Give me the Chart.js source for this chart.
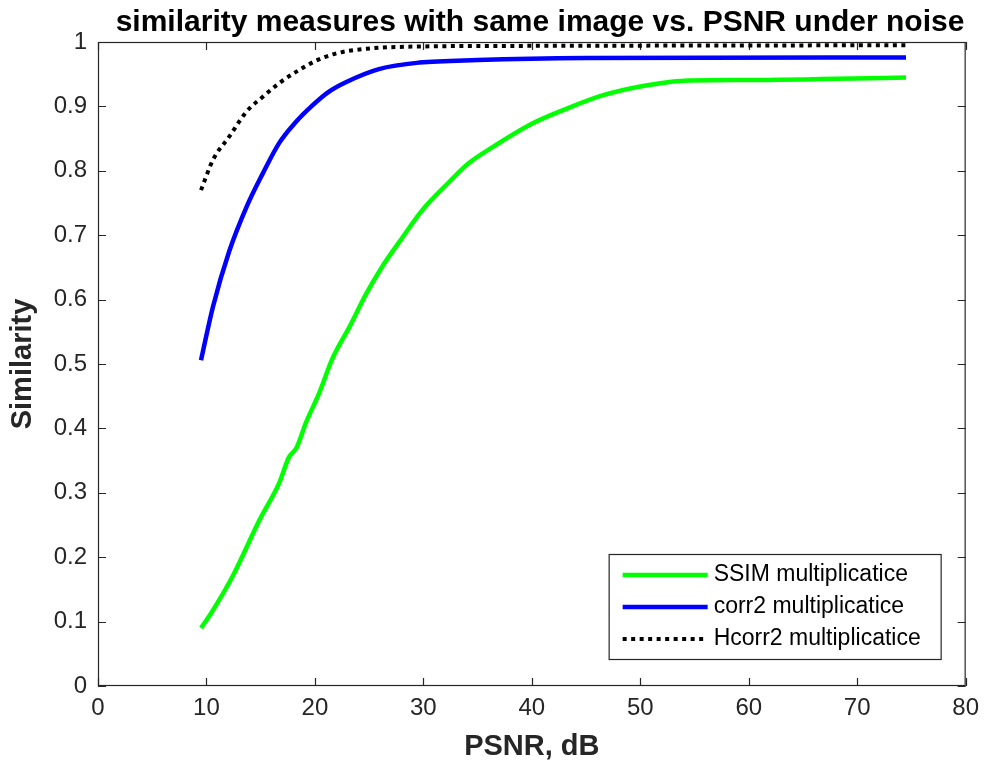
<!DOCTYPE html>
<html><head><meta charset="utf-8">
<script src="https://cdn.jsdelivr.net/npm/chart.js@4.4.0/dist/chart.umd.min.js"></script>
<style>html,body{margin:0;padding:0;background:#fff;}canvas{display:block}</style>
</head><body>
<canvas id="c" width="987" height="765"></canvas>
<script>
// ---- data ----
const ssimX = [9.5, 10.5, 12.4, 14.9, 16.7, 17.6, 18.3, 19.2, 20.4, 21.6, 23.2, 24.7, 26.2, 27.8, 29.9, 32.4, 34.2, 36.5, 40.0, 43.0, 46.5, 50.0, 54.1, 60.0, 74.5];
const ssimY = [0.090, 0.115, 0.170, 0.258, 0.315, 0.355, 0.370, 0.410, 0.455, 0.508, 0.558, 0.608, 0.651, 0.690, 0.739, 0.783, 0.812, 0.838, 0.873, 0.895, 0.917, 0.931, 0.940, 0.941, 0.945];
const corrX = [9.5, 10.6, 12.1, 13.7, 15.2, 16.7, 18.2, 19.8, 21.3, 22.9, 25.9, 29.6, 35.0, 45.0, 74.5];
const corrY = [0.506, 0.589, 0.675, 0.744, 0.796, 0.843, 0.875, 0.902, 0.923, 0.938, 0.958, 0.968, 0.972, 0.975, 0.976];
const hcorrX = [9.5, 10.6, 12.1, 13.7, 15.2, 16.7, 18.3, 20.1, 21.9, 24.4, 29.6, 40.0, 74.5];
const hcorrY = [0.770, 0.817, 0.853, 0.892, 0.915, 0.936, 0.954, 0.971, 0.982, 0.989, 0.993, 0.994, 0.995];
const seriesLabels = ['SSIM multiplicatice', 'corr2 multiplicatice', 'Hcorr2 multiplicatice'];
const xTickLabels = ['0', '10', '20', '30', '40', '50', '60', '70', '80'];
const yTickLabels = ['0', '0.1', '0.2', '0.3', '0.4', '0.5', '0.6', '0.7', '0.8', '0.9', '1'];
const titleText = 'similarity measures with same image vs. PSNR under noise';
const xTitle = 'PSNR, dB';
const yTitle = 'Similarity';

const FONT = '"Liberation Sans", Arial, Helvetica, sans-serif';
const AX = '#262626';

function pts(xs, ys) { return xs.map((x, i) => ({ x: x, y: ys[i] })); }

const boxTicks = {
  id: 'boxTicks',
  afterLayout(chart) {
    const t = chart.titleBlock;
    if (t) { t.left = 540 - 470; t.right = 540 + 470; }
  },
  beforeDatasetsDraw(chart) {
    const { ctx, chartArea: a, scales } = chart;
    ctx.save();
    ctx.strokeStyle = AX;
    ctx.lineWidth = 1.2;
    ctx.strokeRect(a.left + 0.5, a.top + 0.5, a.right - a.left - 1, a.bottom - a.top - 1);
    const L = 8;
    ctx.beginPath();
    scales.x.ticks.forEach(tk => {
      const p = Math.round(scales.x.getPixelForValue(tk.value)) + 0.5;
      ctx.moveTo(p, a.bottom); ctx.lineTo(p, a.bottom - L);
      ctx.moveTo(p, a.top); ctx.lineTo(p, a.top + L);
    });
    scales.y.ticks.forEach(tk => {
      const p = Math.round(scales.y.getPixelForValue(tk.value)) + 0.5;
      ctx.moveTo(a.left, p); ctx.lineTo(a.left + L, p);
      ctx.moveTo(a.right, p); ctx.lineTo(a.right - L, p);
    });
    ctx.stroke();
    ctx.restore();
  },
  afterDraw(chart) {
    const { ctx, chartArea: a } = chart;
    const w = 332, h = 105;
    const right = a.right - 25, bottom = a.bottom - 27;
    const left = right - w, top = bottom - h;
    ctx.save();
    ctx.fillStyle = '#fff';
    ctx.fillRect(left, top, w, h);
    ctx.strokeStyle = AX;
    ctx.lineWidth = 1.2;
    ctx.strokeRect(left + 0.5, top + 0.5, w, h);
    ctx.font = '23px ' + FONT;
    ctx.textBaseline = 'middle';
    ctx.textAlign = 'left';
    chart.data.datasets.forEach((ds, i) => {
      const y = top + 21 + i * 32;
      ctx.beginPath();
      ctx.strokeStyle = ds.borderColor;
      ctx.lineWidth = ds.borderWidth;
      ctx.setLineDash(ds.borderDash || []);
      ctx.moveTo(left + 14, y); ctx.lineTo(left + 99, y);
      ctx.stroke();
      ctx.setLineDash([]);
      ctx.fillStyle = '#000';
      ctx.fillText(ds.label, left + 105, y);
    });
    ctx.restore();
  }
};

new Chart(document.getElementById('c'), {
  type: 'scatter',
  data: {
    datasets: [
      { label: seriesLabels[0], data: pts(ssimX, ssimY), showLine: true, borderColor: '#00ff00', borderWidth: 4.5, pointRadius: 0, cubicInterpolationMode: 'monotone' },
      { label: seriesLabels[1], data: pts(corrX, corrY), showLine: true, borderColor: '#0000ff', borderWidth: 4.5, pointRadius: 0, cubicInterpolationMode: 'monotone' },
      { label: seriesLabels[2], data: pts(hcorrX, hcorrY), showLine: true, borderColor: '#000000', borderWidth: 4, borderDash: [4, 4.5], pointRadius: 0, cubicInterpolationMode: 'monotone' }
    ]
  },
  options: {
    responsive: false,
    animation: false,
    layout: { padding: { left: 0, right: 19, top: 0, bottom: 0 } },
    plugins: {
      legend: { display: false },
      tooltip: { enabled: false },
      title: {
        display: true, text: titleText, color: '#000',
        font: { family: FONT, size: 30, weight: 'bold', lineHeight: 1.2 },
        padding: { top: 5, bottom: 1 }
      }
    },
    scales: {
      x: {
        type: 'linear', min: 0, max: 80,
        afterFit(s) { s.height = 79; },
        grid: { display: true, drawOnChartArea: false, drawTicks: false },
        border: { display: false },
        ticks: {
          stepSize: 10, color: AX, padding: 8, maxRotation: 0,
          font: { family: FONT, size: 24 },
          callback: (v, i) => xTickLabels[i]
        },
        title: {
          display: true, text: xTitle, color: AX,
          font: { family: FONT, size: 29, weight: 'bold', lineHeight: 1.2 },
          padding: { top: 0, bottom: 1 }
        }
      },
      y: {
        type: 'linear', min: 0, max: 1,
        afterFit(s) { s.width = 98; },
        grid: { display: true, drawOnChartArea: false, drawTicks: false },
        border: { display: false },
        ticks: {
          stepSize: 0.1, color: AX, padding: 11,
          font: { family: FONT, size: 24 },
          callback: (v, i) => yTickLabels[i]
        },
        title: {
          display: true, text: yTitle, color: AX,
          font: { family: FONT, size: 29, weight: 'bold', lineHeight: 1.2 },
          padding: { top: 6, bottom: 0 }
        }
      }
    }
  },
  plugins: [boxTicks]
});
</script>
</body></html>
